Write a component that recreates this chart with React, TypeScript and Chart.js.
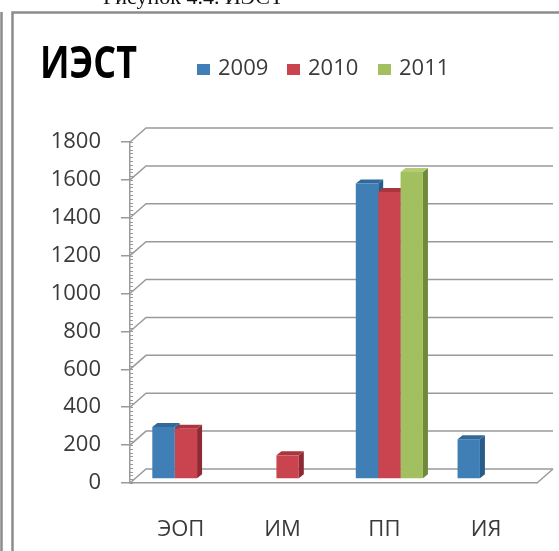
import React, { useEffect, useRef } from 'react';
import { Chart, registerables } from 'chart.js';

Chart.register(...registerables);

// ---- data ----
const CATEGORIES = ['ЭОП', 'ИМ', 'ПП', 'ИЯ'];
const SERIES_NAMES = ['2009', '2010', '2011'];
const VALUES_2009: (number | null)[] = [275, null, 1560, 210];
const VALUES_2010: (number | null)[] = [265, 125, 1515, null];
const VALUES_2011: (number | null)[] = [null, null, 1620, null];
const Y_MIN = 0;
const Y_MAX = 1800;
const Y_STEP = 200;
const Y_MINOR_STEP = 20;
const TITLE = 'ИЭСТ';
const CAPTION = 'Рисунок 4.4. ИЭСТ';

// ---- styles ----
const FRONT = ['#3F7FB6', '#C9444F', '#A3C060'];
const SIDE = ['#2A5C8A', '#8E2A33', '#6E8A3B'];
const TOPC = ['#32699B', '#A9363F', '#B4CC78'];
const GRID = '#9a9a9a';
const TEXT = '#3a3a3a';
const FONT = '"Open Sans", "DejaVu Sans", sans-serif';

const DX = 16; // back wall offset
const DY = -14;
const BX = 5; // bar plane offset
const BY = -4;
const BDX = 5; // bar depth
const BDY = -4;

const threeD = {
  id: 'threeD',
  beforeDatasetsDraw(chart: any) {
    const { ctx, chartArea: a } = chart;
    const y = chart.scales.y;
    ctx.save();
    ctx.strokeStyle = GRID;
    ctx.lineWidth = 1.5;
    for (let v = Y_MIN; v <= Y_MAX; v += Y_STEP) {
      const py = y.getPixelForValue(v);
      ctx.beginPath();
      ctx.moveTo(a.left, py);
      ctx.lineTo(a.left + DX, py + DY);
      ctx.lineTo(a.right + DX, py + DY);
      ctx.stroke();
    }
    ctx.beginPath();
    ctx.moveTo(a.right, a.bottom);
    ctx.lineTo(a.right + DX, a.bottom + DY);
    ctx.stroke();
    ctx.lineWidth = 1;
    for (let v = Y_MIN; v <= Y_MAX; v += Y_MINOR_STEP) {
      const py = Math.round(y.getPixelForValue(v)) + 0.5;
      ctx.beginPath();
      ctx.moveTo(a.left, py);
      ctx.lineTo(a.left + 3, py);
      ctx.stroke();
    }
    ctx.restore();

    ctx.save();
    ctx.translate(BX, BY);
    chart.data.datasets.forEach((ds: any, di: number) => {
      const meta = chart.getDatasetMeta(di);
      meta.data.forEach((el: any, i: number) => {
        if (ds.data[i] == null) return;
        const p = el.getProps(['x', 'y', 'base', 'width'], true);
        const L = p.x - p.width / 2;
        const R = p.x + p.width / 2;
        const T = p.y;
        const B = p.base;
        ctx.fillStyle = SIDE[di];
        ctx.beginPath();
        ctx.moveTo(R, T);
        ctx.lineTo(R + BDX, T + BDY);
        ctx.lineTo(R + BDX, B + BDY);
        ctx.lineTo(R, B);
        ctx.closePath();
        ctx.fill();
        ctx.fillStyle = TOPC[di];
        ctx.beginPath();
        ctx.moveTo(L, T);
        ctx.lineTo(L + BDX, T + BDY);
        ctx.lineTo(R + BDX, T + BDY);
        ctx.lineTo(R, T);
        ctx.closePath();
        ctx.fill();
      });
    });
  },
  afterDatasetsDraw(chart: any) {
    chart.ctx.restore();
  },
  afterDraw(chart: any) {
    const ctx = chart.ctx;
    ctx.save();
    // frame
    ctx.strokeStyle = '#8c8c8c';
    ctx.lineWidth = 2.5;
    ctx.beginPath();
    ctx.moveTo(1.5, 12);
    ctx.lineTo(1.5, 551);
    ctx.moveTo(12.5, 551);
    ctx.lineTo(12.5, 12.5);
    ctx.lineTo(559, 12.5);
    ctx.stroke();
    // caption (cut off at top)
    ctx.fillStyle = '#111';
    ctx.font = '22px "Liberation Serif", "DejaVu Serif", serif';
    ctx.textBaseline = 'alphabetic';
    ctx.fillText(CAPTION, 103, 4);
    // title
    ctx.font = `bold 44px ${FONT}`;
    const tw = ctx.measureText(TITLE).width;
    ctx.save();
    ctx.translate(40, 78);
    ctx.scale(97 / tw, 1);
    ctx.fillStyle = '#000';
    ctx.fillText(TITLE, 0, 0);
    ctx.restore();
    // legend
    const lx = [197, 287, 378];
    ctx.font = `22px ${FONT}`;
    chart.data.datasets.forEach((ds: any, di: number) => {
      ctx.fillStyle = FRONT[di];
      ctx.fillRect(lx[di], 64, 13, 11);
      ctx.fillStyle = TEXT;
      ctx.fillText(ds.label, lx[di] + 21, 75);
    });
    ctx.restore();
  },
};

export default function App() {
  const ref = useRef<HTMLCanvasElement>(null);
  useEffect(() => {
    if (!ref.current) return;
    const series = [VALUES_2009, VALUES_2010, VALUES_2011];
    const chart = new Chart(ref.current, {
      type: 'bar',
      data: {
        labels: CATEGORIES,
        datasets: series.map((vals, i) => ({
          label: SERIES_NAMES[i],
          data: vals,
          backgroundColor: FRONT[i],
          borderWidth: 0,
          categoryPercentage: 0.66,
          barPercentage: 1.0,
          clip: false,
        })) as any,
      },
      options: {
        responsive: false,
        animation: false,
        layout: { padding: { top: 142, right: 22, bottom: 0, left: 0 } },
        plugins: {
          legend: { display: false },
          title: { display: false },
          tooltip: { enabled: false },
        },
        scales: {
          x: {
            grid: { display: false, drawTicks: false },
            border: { display: true, color: GRID, width: 1.5 },
            ticks: { font: { family: FONT, size: 22 }, color: TEXT, padding: 34 },
            afterFit: (s: any) => {
              s.height = 68;
            },
          },
          y: {
            min: Y_MIN,
            max: Y_MAX,
            ticks: {
              stepSize: Y_STEP,
              font: { family: FONT, size: 22 },
              color: TEXT,
              padding: 20,
              callback: (v: any) => String(v),
            },
            grid: { drawOnChartArea: false, drawTicks: true, tickLength: 9, color: GRID, lineWidth: 1.5 },
            border: { display: true, color: GRID, width: 1.5 },
            afterFit: (s: any) => {
              s.width = 130;
            },
          },
        },
      } as any,
      plugins: [threeD],
    });
    return () => chart.destroy();
  }, []);
  return (
    <div style={{ position: 'fixed', left: 0, top: 0, width: 559, height: 551, background: '#fff' }}>
      <canvas ref={ref} width={559} height={551} style={{ display: 'block', width: 559, height: 551 }} />
    </div>
  );
}
